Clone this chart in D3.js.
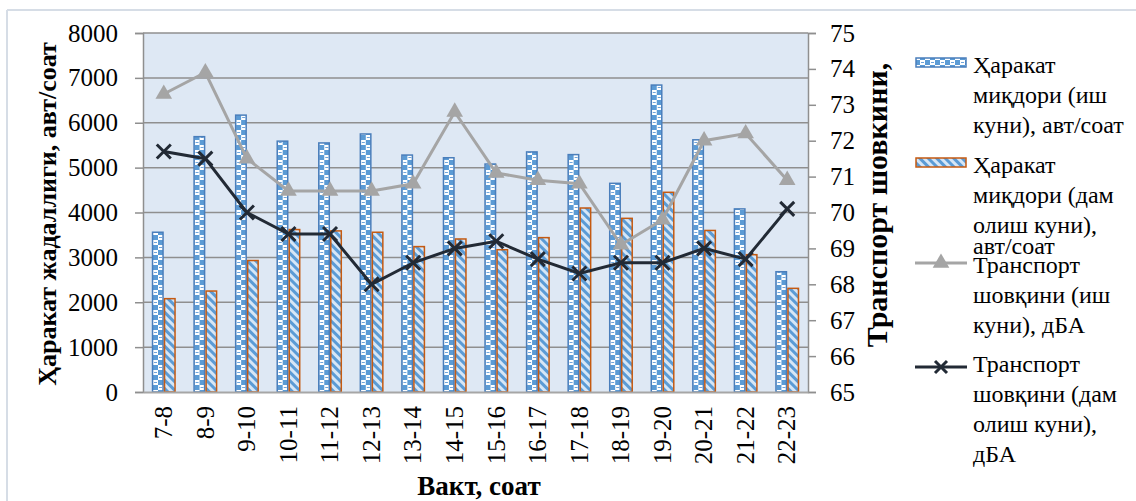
<!DOCTYPE html>
<html>
<head>
<meta charset="utf-8">
<script src="https://cdnjs.cloudflare.com/ajax/libs/d3/7.8.5/d3.min.js"></script>
</head>
<body style="margin:0;background:#ffffff">
<svg id="chart" width="1136" height="501" style="display:block"></svg>
<script>
// Hourly intervals
const hours = ["7-8", "8-9", "9-10", "10-11", "11-12", "12-13", "13-14", "14-15",
               "15-16", "16-17", "17-18", "18-19", "19-20", "20-21", "21-22", "22-23"];

// Traffic intensity, vehicles per hour
const trafficWorkday = [3560, 5690, 6170, 5590, 5550, 5750, 5280, 5220,
                        5080, 5350, 5290, 4650, 6840, 5620, 4080, 2680];
const trafficDayOff  = [2080, 2250, 2930, 3620, 3590, 3560, 3240, 3410,
                        3170, 3440, 4100, 3870, 4450, 3600, 3060, 2310];

// Traffic noise, dBA
const noiseWorkday = [73.3, 73.9, 71.5, 70.6, 70.6, 70.6, 70.8, 72.8,
                      71.1, 70.9, 70.8, 69.1, 69.8, 72.0, 72.2, 70.9];
const noiseDayOff  = [71.7, 71.5, 70.0, 69.4, 69.4, 68.0, 68.6, 69.0,
                      69.2, 68.7, 68.3, 68.6, 68.6, 69.0, 68.7, 70.1];

// Axis ticks
const leftTicks  = [0, 1000, 2000, 3000, 4000, 5000, 6000, 7000, 8000];
const rightTicks = [65, 66, 67, 68, 69, 70, 71, 72, 73, 74, 75];

// Legend entries
const legendLines = [
  ["Ҳаракат", "миқдори (иш", "куни), авт/соат"],
  ["Ҳаракат", "миқдори (дам", "олиш куни),", "авт/соат"],
  ["Транспорт", "шовқини (иш", "куни), дБА"],
  ["Транспорт", "шовқини (дам", "олиш куни),", "дБА"]
];

const serif = "Liberation Serif";
const svg = d3.select("#chart");
const plot = { left: 143, right: 808, top: 33, bottom: 392 };

const x = d3.scaleBand().domain(hours).range([plot.left, plot.right]).padding(0);
const sub = d3.scaleBand().domain(["work", "off"])
  .range([x.bandwidth() / 2 - 12, x.bandwidth() / 2 + 12]).padding(0);
const yL = d3.scaleLinear().domain([0, 8000]).range([plot.bottom, plot.top]);
const yR = d3.scaleLinear().domain([65, 75]).range([plot.bottom, plot.top]);

// Fill patterns
const defs = svg.append("defs");
const chk = defs.append("pattern").attr("id", "chk")
  .attr("patternUnits", "userSpaceOnUse").attr("width", 10).attr("height", 10);
chk.append("rect").attr("width", 10).attr("height", 10).attr("fill", "#5b9bd5");
chk.append("rect").attr("x", 0).attr("y", 0).attr("width", 5).attr("height", 5).attr("fill", "#ffffff");
chk.append("rect").attr("x", 5).attr("y", 5).attr("width", 5).attr("height", 5).attr("fill", "#ffffff");
chk.append("rect").attr("x", 1).attr("y", 2).attr("width", 3).attr("height", 1).attr("fill", "#6fa5db");
chk.append("rect").attr("x", 6).attr("y", 7).attr("width", 3).attr("height", 1).attr("fill", "#6fa5db");

const diag = defs.append("pattern").attr("id", "diag")
  .attr("patternUnits", "userSpaceOnUse").attr("width", 6).attr("height", 6)
  .attr("patternTransform", "rotate(45)");
diag.append("rect").attr("width", 6).attr("height", 6).attr("fill", "#d6e6f6");
diag.append("rect").attr("width", 6).attr("height", 3).attr("fill", "#5b9bd5");

// Outer frame
svg.append("line").attr("x1", 7).attr("y1", 10).attr("x2", 1136).attr("y2", 10)
  .attr("stroke", "#d6dde6").attr("stroke-width", 2);
svg.append("line").attr("x1", 7).attr("y1", 10).attr("x2", 7).attr("y2", 501)
  .attr("stroke", "#d6dde6").attr("stroke-width", 2);

// Plot background
svg.append("rect").attr("x", plot.left).attr("y", plot.top)
  .attr("width", plot.right - plot.left).attr("height", plot.bottom - plot.top)
  .attr("fill", "#dee8f4");

// Gridlines
svg.append("g").selectAll("line").data(leftTicks.slice(1)).join("line")
  .attr("x1", plot.left).attr("x2", plot.right)
  .attr("y1", d => yL(d)).attr("y2", d => yL(d))
  .attr("stroke", "#8f8f8f").attr("stroke-width", 1.5);

// Bars
const groups = svg.append("g").selectAll("g").data(hours).join("g")
  .attr("transform", d => `translate(${x(d)},0)`);
groups.append("rect")
  .attr("x", sub("work") + 0.75).attr("width", sub.bandwidth() - 1.5)
  .attr("y", (d, i) => yL(trafficWorkday[i]))
  .attr("height", (d, i) => yL(0) - yL(trafficWorkday[i]))
  .attr("fill", "url(#chk)").attr("stroke", "#4a7ebb").attr("stroke-width", 1.5);
groups.append("rect")
  .attr("x", sub("off") + 0.75).attr("width", sub.bandwidth() - 1.5)
  .attr("y", (d, i) => yL(trafficDayOff[i]))
  .attr("height", (d, i) => yL(0) - yL(trafficDayOff[i]))
  .attr("fill", "url(#diag)").attr("stroke", "#c55a11").attr("stroke-width", 1.5);

// Axes
const fontSize = 25;
const axL = svg.append("g").attr("transform", `translate(${plot.left},0)`)
  .call(d3.axisLeft(yL).tickValues(leftTicks).tickSize(8).tickPadding(17).tickFormat(d3.format("d")));
const axR = svg.append("g").attr("transform", `translate(${plot.right},0)`)
  .call(d3.axisRight(yR).tickValues(rightTicks).tickSize(8).tickPadding(14));
const axB = svg.append("g").attr("transform", `translate(0,${plot.bottom})`)
  .call(d3.axisBottom(x).tickSize(0).tickPadding(0));
[axL, axR, axB].forEach(a => {
  a.attr("font-family", serif).attr("font-size", fontSize);
  a.selectAll("path, line").attr("stroke", "#8f8f8f").attr("stroke-width", 1.5);
  a.selectAll("text").attr("font-family", serif).attr("font-size", fontSize).attr("fill", "#000");
});
axB.select(".domain").attr("stroke", "#a6a6a6").attr("stroke-width", 2);
axB.selectAll("text")
  .attr("transform", "rotate(-90)")
  .attr("text-anchor", "end").attr("x", -14).attr("y", 0).attr("dy", "0.33em");

// Noise lines
const lineR = d3.line().x((d, i) => x(hours[i]) + x.bandwidth() / 2).y(d => yR(d));
svg.append("path").datum(noiseWorkday).attr("d", lineR)
  .attr("fill", "none").attr("stroke", "#a5a5a5").attr("stroke-width", 3);
svg.append("path").datum(noiseDayOff).attr("d", lineR)
  .attr("fill", "none").attr("stroke", "#222a35").attr("stroke-width", 3);

const tri = d3.symbol().type(d3.symbolTriangle).size(120);
svg.append("g").selectAll("path").data(noiseWorkday).join("path")
  .attr("transform", (d, i) => `translate(${x(hours[i]) + x.bandwidth() / 2},${yR(d)})`)
  .attr("d", tri).attr("fill", "#a5a5a5");
const cross = "M-7,-7L7,7M-7,7L7,-7";
svg.append("g").selectAll("path").data(noiseDayOff).join("path")
  .attr("transform", (d, i) => `translate(${x(hours[i]) + x.bandwidth() / 2},${yR(d)})`)
  .attr("d", cross).attr("stroke", "#222a35").attr("stroke-width", 3).attr("fill", "none");

// Axis titles
function title(sel, size) {
  return sel.attr("text-anchor", "middle").attr("font-family", serif)
    .attr("font-size", size).attr("font-weight", "bold").attr("fill", "#000");
}
title(svg.append("text").attr("transform", "translate(56,214) rotate(-90)"), 26)
  .text("Ҳаракат жадаллиги, авт/соат");
title(svg.append("text").attr("transform", "translate(887,205) rotate(-90)"), 30)
  .text("Транспорт шовкини,");
title(svg.append("text").attr("x", 479).attr("y", 495), 27)
  .text("Вакт, соат");

// Legend
const leg = svg.append("g");
const legTop = [73, 173, 273, 372];
legendLines.forEach((lines, k) => {
  lines.forEach((t, j) => {
    let yy = legTop[k] + j * 30;
    if (k === 1 && j === 3) yy = 254;
    leg.append("text").attr("x", 973).attr("y", yy)
      .attr("font-family", serif).attr("font-size", 24).attr("fill", "#000").text(t);
  });
});
leg.append("rect").attr("x", 916).attr("y", 58).attr("width", 50).attr("height", 9)
  .attr("fill", "url(#chk)").attr("stroke", "#4a7ebb").attr("stroke-width", 1.5);
leg.append("rect").attr("x", 916).attr("y", 158).attr("width", 50).attr("height", 9)
  .attr("fill", "url(#diag)").attr("stroke", "#c55a11").attr("stroke-width", 1.5);
leg.append("line").attr("x1", 915).attr("x2", 967).attr("y1", 263).attr("y2", 263)
  .attr("stroke", "#a5a5a5").attr("stroke-width", 3);
leg.append("path").attr("transform", "translate(941,263)").attr("d", tri).attr("fill", "#a5a5a5");
leg.append("line").attr("x1", 915).attr("x2", 967).attr("y1", 367).attr("y2", 367)
  .attr("stroke", "#222a35").attr("stroke-width", 3);
leg.append("path").attr("transform", "translate(941,367)").attr("d", "M-6,-6L6,6M-6,6L6,-6")
  .attr("stroke", "#222a35").attr("stroke-width", 3).attr("fill", "none");
</script>
</body>
</html>
